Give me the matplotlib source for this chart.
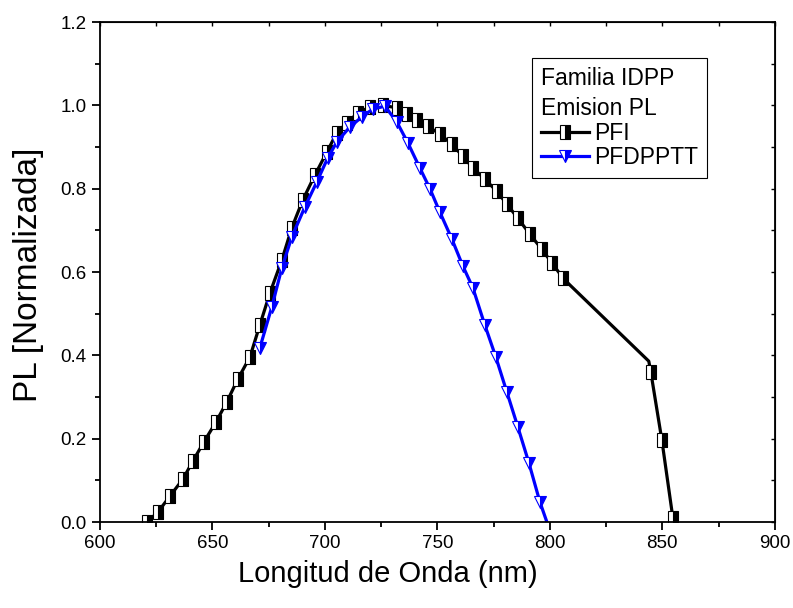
import numpy as np
import matplotlib
matplotlib.use("Agg")
import matplotlib.pyplot as plt
from matplotlib.ticker import MultipleLocator, FormatStrFormatter
from matplotlib.markers import MarkerStyle
from matplotlib.transforms import Affine2D

plt.rcParams['font.family'] = ['Liberation Sans', 'DejaVu Sans']

# PFI (black, half filled squares)
pfi_x = [621.0, 625.8, 631.1, 636.9, 641.3, 646.2, 651.6, 656.4, 661.3, 666.7,
         671.1, 675.6, 680.9, 685.3, 690.2, 695.6, 700.9, 705.3, 709.8, 714.7,
         720.0, 725.8, 732.0, 736.4, 740.9, 745.8, 751.1, 756.4, 761.3, 765.8,
         771.1, 776.4, 780.9, 785.8, 791.1, 796.4, 800.9, 805.8, 808.9, 844.0,
         844.9, 849.8, 854.7]
pfi_y = [0.000, 0.024, 0.062, 0.103, 0.146, 0.192, 0.240, 0.288, 0.343, 0.396,
         0.473, 0.550, 0.629, 0.706, 0.773, 0.833, 0.888, 0.934, 0.958, 0.982,
         0.996, 1.000, 0.994, 0.980, 0.965, 0.950, 0.931, 0.907, 0.878, 0.850,
         0.823, 0.794, 0.763, 0.729, 0.691, 0.655, 0.622, 0.586, 0.569, 0.386,
         0.360, 0.197, 0.010]
pfi_nomark = [38, 39]   # points on the line without a symbol

# PFDPPTT (blue, half filled down triangles)
pfd_x = [671.1, 676.4, 680.9, 685.3, 691.1, 696.4, 701.3, 705.3, 711.1, 716.4,
         721.3, 726.7, 732.0, 736.9, 742.2, 746.7, 751.1, 756.4, 761.3, 765.8,
         771.1, 776.0, 780.9, 785.8, 790.7, 795.6, 798.7]
pfd_y = [0.418, 0.516, 0.610, 0.684, 0.756, 0.816, 0.874, 0.912, 0.948, 0.972,
         0.991, 0.998, 0.960, 0.910, 0.850, 0.800, 0.744, 0.680, 0.615, 0.562,
         0.473, 0.396, 0.312, 0.228, 0.142, 0.048, 0.000]
pfd_nomark = [26]

legend_title = "Familia IDPP\nEmision PL"

fig = plt.figure(figsize=(7.93, 6.08), dpi=100)
ax = fig.add_axes([0.126, 0.1414, 0.851, 0.8224])

pfi_marks = [i for i in range(len(pfi_x)) if i not in pfi_nomark]
pfd_marks = [i for i in range(len(pfd_x)) if i not in pfd_nomark]

# narrow square, white left half / black right half (Origin style)
sq = MarkerStyle('s', fillstyle='right', transform=Affine2D().scale(0.75, 1.0))
tri = MarkerStyle('v', fillstyle='right')

ax.plot(pfi_x, pfi_y, color='black', lw=2.3, marker=sq, ms=9.5,
        markerfacecolor='black', markerfacecoloralt='white',
        markeredgecolor='black', markeredgewidth=0.8, markevery=pfi_marks,
        label='PFI')
ax.plot(pfd_x, pfd_y, color='#0000ff', lw=2.3, marker=tri, ms=9,
        markerfacecolor='#0000ff', markerfacecoloralt='white',
        markeredgecolor='#0000ff', markeredgewidth=0.8, markevery=pfd_marks,
        label='PFDPPTT')

ax.set_xlim(600, 900)
ax.set_ylim(0, 1.2)
ax.xaxis.set_major_locator(MultipleLocator(50))
ax.xaxis.set_minor_locator(MultipleLocator(25))
ax.yaxis.set_major_locator(MultipleLocator(0.2))
ax.yaxis.set_minor_locator(MultipleLocator(0.1))
ax.yaxis.set_major_formatter(FormatStrFormatter('%.1f'))
ax.tick_params(which='major', direction='out', length=6, width=1.3, labelsize=13.5)
ax.tick_params(which='minor', direction='out', length=3.5, width=1.3)
for s in ax.spines.values():
    s.set_linewidth(1.3)

# inward ticks on top and right, as in Origin
top = ax.secondary_xaxis('top')
top.xaxis.set_major_locator(MultipleLocator(25))
top.tick_params(direction='in', length=3, width=1, labeltop=False)
right = ax.secondary_yaxis('right')
right.yaxis.set_major_locator(MultipleLocator(0.1))
right.tick_params(direction='in', length=3, width=1, labelright=False)

ax.set_xlabel('Longitud de Onda (nm)', fontsize=21)
ax.set_ylabel('PL [Normalizada]', fontsize=24)
ax.xaxis.set_label_coords(0.427, -0.075)
ax.yaxis.set_label_coords(-0.083, 0.494)

leg = ax.legend(title=legend_title, loc='upper left', bbox_to_anchor=(0.64, 0.928),
                borderaxespad=0, fontsize=16.5, title_fontsize=16.5, alignment='left',
                fancybox=False, framealpha=1, edgecolor='black', handlelength=2.1,
                handletextpad=0.2, labelspacing=0.05, borderpad=0.4)
leg.get_frame().set_linewidth(0.8)
leg.get_title().set_linespacing(1.4)

fig.savefig('out.png', dpi=100)
